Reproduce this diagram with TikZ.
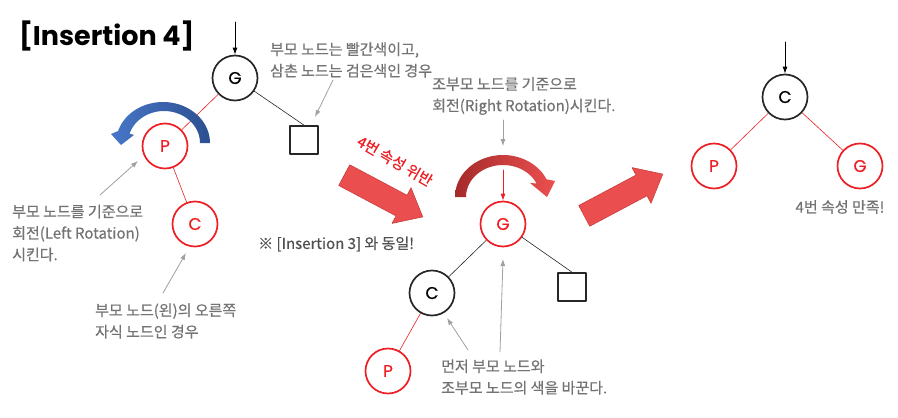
\documentclass[tikz,border=0pt]{standalone}
\usepackage{fontspec}
\setmainfont{Noto Sans CJK KR}[FakeBold=0.5]
\newfontfamily\latinfont{Poppins}[FakeBold=0.6]
\newfontfamily\titlefont{Poppins}
\usetikzlibrary{arrows.meta,shapes.arrows}

\definecolor{nodered}{RGB}{237,30,36}
\definecolor{nodeblack}{RGB}{38,38,38}
\definecolor{notegray}{RGB}{115,115,115}
\definecolor{notedark}{RGB}{80,80,80}
\definecolor{arrowgray}{RGB}{160,160,160}
\definecolor{blockred}{RGB}{234,78,78}
\definecolor{blockedge}{RGB}{196,56,56}
\definecolor{turnblue}{RGB}{72,118,200}
\definecolor{turnbluedark}{RGB}{44,80,145}
\definecolor{turnred}{RGB}{236,80,80}
\definecolor{turnreddark}{RGB}{165,42,42}

\tikzset{
  rbnode/.style={circle,line width=1.7pt,minimum size=45pt,inner sep=0pt,
    font=\latinfont\fontsize{17}{17}\selectfont},
  rednode/.style={rbnode,draw=nodered,text=nodered},
  blacknode/.style={rbnode,draw=nodeblack,text=black},
  nilnode/.style={draw=nodeblack,line width=1.7pt,minimum size=28pt,inner sep=0pt},
  note/.style={anchor=west,align=left,text=notegray,inner sep=0pt,
    font=\fontsize{15}{21.5}\selectfont},
  notearrow/.style={draw=arrowgray,line width=0.8pt,-{Latex[length=7pt,width=5pt]}},
  rootarrow/.style={line width=0.8pt,-{Latex[length=7pt,width=5pt]}},
  redline/.style={draw=nodered,line width=0.6pt},
  blackline/.style={draw=nodeblack,line width=0.6pt},
  bigarrow/.style={single arrow,fill=blockred,draw=blockedge,line width=0.5pt,
    minimum height=89pt,minimum width=40pt,single arrow head extend=8.5pt,
    single arrow tip angle=80,inner xsep=0pt,inner ysep=11.5pt,anchor=tail},
}

\begin{document}
\begin{tikzpicture}[x=1pt,y=-1pt,line cap=round,line join=round]
  \useasboundingbox (0,0) rectangle (898,418);
  \node[anchor=west,inner sep=0pt,font=\titlefont\bfseries\fontsize{27}{27}\selectfont] (title) at (19,36) {[Insertion 4]};

  % first tree: red P with red right child C
  \coordinate (top1) at (235,22);
  \node[blacknode] (g1) at (235,78) {G};
  \node[rednode] (p1) at (165,146) {P};
  \node[rednode] (c1) at (195,224) {C};
  \node[nilnode] (u1) at (304,140) {};
  \draw[rootarrow] (top1) -- (g1);
  \draw[redline] (g1) -- (p1);
  \draw[redline] (p1) -- (c1);
  \draw[blackline] (g1) -- (u1.north);

  % left rotation at P
  \shade[left color=turnblue,right color=turnbluedark]
    plot[domain=0:163,samples=40] ({163+47*cos(\x)},{143-41*sin(\x)})
    -- (111,134) -- (121,145) -- (134,135)
    -- plot[domain=163:0,samples=40] ({164+36*cos(\x)},{143-32*sin(\x)}) -- cycle;

  \node[note] (n1) at (270,60) {부모 노드는 빨간색이고,\\삼촌 노드는 검은색인 경우};
  \coordinate (n1a) at (333,80);
  \coordinate (n1b) at (315,117);
  \draw[notearrow] (n1a) -- (n1b);

  \node[note] (n2) at (12,233) {부모 노드를 기준으로\\회전(Left Rotation)\\시킨다.};
  \coordinate (n2a) at (100,195);
  \coordinate (n2b) at (138,161);
  \draw[notearrow] (n2a) -- (n2b);

  \node[note] (n3) at (95,321) {부모 노드(왼)의 오른쪽\\자식 노드인 경우};
  \coordinate (n3a) at (163,293);
  \coordinate (n3b) at (186,253);
  \draw[notearrow] (n3a) -- (n3b);

  \node[note,text=notedark] (same) at (258,244) {※ [Insertion 3] 와 동일!};

  % property 4 broken
  \node[bigarrow,rotate=-28] (broken) at (344,175) {};
  \node[text=nodered,rotate=-30,inner sep=0pt,font=\fontsize{15}{15}\selectfont] (brokentext) at (395,161) {4번 속성 위반};

  % second tree: after left rotation
  \coordinate (top2) at (503,170);
  \node[rednode] (g2) at (503,224) {G};
  \node[blacknode] (c2) at (432,293) {C};
  \node[rednode] (p2) at (388,371) {P};
  \node[nilnode] (u2) at (572,287) {};
  \draw[rootarrow,draw=nodered] (top2) -- (g2);
  \draw[blackline] (g2) -- (c2);
  \draw[blackline] (g2) -- (u2.north);
  \draw[redline] (c2) -- (p2);

  % right rotation at G
  \shade[left color=turnreddark,right color=turnred]
    plot[domain=180:25,samples=40] ({503+48*cos(\x)},{197-42*sin(\x)})
    -- (555,181) -- (547,197) -- (530,183)
    -- plot[domain=25:180,samples=40] ({503+37*cos(\x)},{197-32*sin(\x)}) -- cycle;

  \node[note] (n4) at (432,96) {조부모 노드를 기준으로\\회전(Right Rotation)시킨다.};
  \coordinate (n4a) at (503,120);
  \coordinate (n4b) at (503,146);
  \draw[notearrow] (n4a) -- (n4b);

  \node[note] (n5) at (441,377) {먼저 부모 노드와\\조부모 노드의 색을 바꾼다.};
  \coordinate (n5a) at (468,350);
  \coordinate (n5b) at (447,318);
  \coordinate (n5c) at (500,352);
  \coordinate (n5d) at (503,259);
  \draw[notearrow] (n5a) -- (n5b);
  \draw[notearrow] (n5c) -- (n5d);

  \node[bigarrow,rotate=28] (fixed) at (584,216) {};

  % third tree: result
  \coordinate (top3) at (785,42);
  \node[blacknode] (c3) at (785,97) {C};
  \node[rednode] (p3) at (714,166) {P};
  \node[rednode] (g3) at (860,166) {G};
  \draw[rootarrow] (top3) -- (c3);
  \draw[redline] (c3) -- (p3);
  \draw[redline] (c3) -- (g3);
  \node[text=notegray,inner sep=0pt,font=\fontsize{15}{15}\selectfont] (ok) at (840,207) {4번 속성 만족!};
\end{tikzpicture}
\end{document}
